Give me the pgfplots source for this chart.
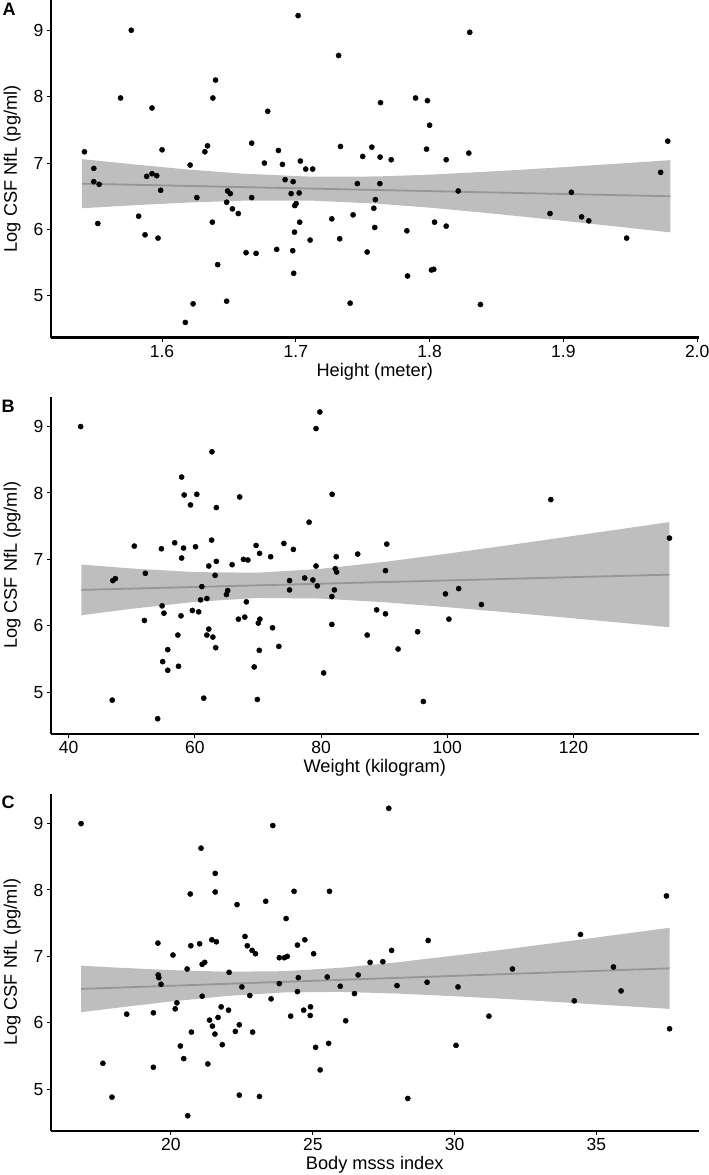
\documentclass[border=0pt]{standalone}
\usepackage{fontspec}
\setmainfont{Liberation Sans}
\usepackage{pgfplots}
\pgfplotsset{compat=1.18}
\definecolor{band}{RGB}{190,190,190}
\definecolor{fitc}{RGB}{150,150,150}
\pgfplotsset{
  panel/.style={
    scale only axis, width=647.5pt, height=337.5pt, anchor=south west,
    axis lines=left, axis line style={-, line width=2.6pt, black},
    tick style={black, line width=1pt}, tick align=outside, major tick length=4pt,
    ymin=4.37, ymax=9.453, ytick={5,6,7,8,9},
    tick label style={font=\fontsize{17.5}{20}\selectfont, text=black},
    /pgf/number format/assume math mode=true,
    ylabel={Log CSF NfL (pg/ml)},
    every axis y label/.style={at={(axis description cs:-0.060,0.5)}, rotate=90, anchor=center, font=\fontsize{18.2}{20}\selectfont},
    every axis x label/.style={at={(axis description cs:0.5,-0.10)}, anchor=center, font=\fontsize{18.2}{20}\selectfont},
  },
  pts/.style={only marks, mark=*, mark size=2.6pt, black},
  bandst/.style={fill=band, draw=none},
  fitst/.style={fitc, line width=1.8pt, no marks},
}
\begin{document}
\begin{tikzpicture}
\path[use as bounding box] (0,0) rectangle (709pt,-1175pt);
% ---------------- Panel A ----------------
\begin{axis}[panel, at={(51pt,-337.7pt)},
  xmin=1.517, xmax=2.001, xtick={1.6,1.7,1.8,1.9,2.0},
  xticklabel style={/pgf/number format/fixed, /pgf/number format/fixed zerofill, /pgf/number format/precision=1},
  xlabel={Height (meter)}]
\addplot[bandst] coordinates {(1.54,7.06) (1.58,6.978) (1.62,6.902) (1.66,6.841) (1.71,6.796) (1.76,6.798) (1.80,6.825) (1.85,6.878) (1.90,6.938) (1.94,6.990) (1.98,7.044)
 (1.98,5.956) (1.94,6.044) (1.90,6.130) (1.85,6.234) (1.80,6.329) (1.76,6.390) (1.71,6.436) (1.66,6.433) (1.62,6.406) (1.58,6.366) (1.54,6.32)};
\addplot[fitst] coordinates {(1.54,6.69) (1.98,6.50)};
\addplot[pts] table {
x y
1.542 7.17
1.549 6.92
1.549 6.72
1.553 6.68
1.569 7.98
1.577 9.00
1.5925 7.83
1.600 7.20
1.5885 6.80
1.5925 6.84
1.596 6.81
1.599 6.59
1.621 6.97
1.632 7.17
1.634 7.26
1.638 7.98
1.640 8.25
1.626 6.48
1.649 6.58
1.651 6.54
1.667 7.30
1.667 6.48
1.679 7.78
1.6765 7.00
1.687 7.19
1.690 6.98
1.692 6.75
1.698 6.72
1.6965 6.54
1.7025 6.55
1.7017 9.22
1.7034 7.03
1.7074 6.91
1.7126 6.91
1.732 8.62
1.7334 7.25
1.746 6.69
1.830 8.97
1.7633 7.91
1.7895 7.98
1.7984 7.94
1.800 7.57
1.750 7.10
1.7568 7.24
1.763 7.09
1.7713 7.05
1.7977 7.21
1.8124 7.05
1.8293 7.15
1.978 7.33
1.9727 6.86
1.7628 6.69
1.8214 6.58
1.906 6.56
1.7595 6.45
1.552 6.09
1.5825 6.20
1.5873 5.92
1.597 5.87
1.6174 4.60
1.6232 4.88
1.6376 6.11
1.6416 5.47
1.6483 4.92
1.6483 6.41
1.6526 6.31
1.657 6.24
1.6628 5.65
1.6703 5.64
1.6857 5.70
1.6977 5.68
1.6984 5.34
1.699 5.96
1.6992 6.36
1.7002 6.39
1.7029 6.11
1.7107 5.84
1.7269 6.16
1.7328 5.86
1.7406 4.89
1.7428 6.22
1.7583 6.32
1.759 6.03
1.7533 5.66
1.783 5.98
1.7835 5.30
1.8037 6.11
1.8014 5.39
1.8031 5.40
1.8124 6.05
1.838 4.87
1.890 6.24
1.9136 6.19
1.919 6.13
1.9473 5.87
};
\end{axis}
% ---------------- Panel B ----------------
\begin{axis}[panel, at={(51pt,-734pt)},
  xmin=37.2, xmax=139.8, xtick={40,60,80,100,120},
  xlabel={Weight (kilogram)}]
\addplot[bandst] coordinates {(42,6.922) (50,6.863) (60,6.808) (70,6.799) (80,6.858) (90,6.962) (100,7.086) (110,7.218) (120,7.354) (135.2,7.562)
 (135.2,5.978) (120,6.112) (110,6.198) (100,6.280) (90,6.355) (80,6.410) (70,6.419) (60,6.360) (50,6.256) (42,6.158)};
\addplot[fitst] coordinates {(42,6.54) (135.2,6.77)};
\addplot[pts] table {
x y
41.9 9.00
62.7 8.62
57.9 8.24
58.3 7.97
60.3 7.98
59.3 7.82
63.4 7.78
67.1 7.94
79.2 8.97
79.8 9.22
81.75 7.98
78.1 7.56
50.4 7.20
54.7 7.16
56.8 7.25
58.2 7.17
57.9 7.02
60.1 7.19
62.65 7.29
62.2 6.90
63.4 6.97
65.9 6.92
67.7 7.00
68.4 6.99
69.7 7.21
70.25 7.09
72.0 7.04
74.1 7.24
75.6 7.15
79.2 6.90
82.4 7.04
82.25 6.86
82.46 6.81
85.8 7.08
63.2 6.76
52.15 6.79
47.0 6.68
47.4 6.71
61.1 6.59
60.9 6.39
61.9 6.41
65.0 6.47
65.2 6.53
68.15 6.36
54.8 6.30
55.1 6.19
52.0 6.08
57.8 6.15
59.6 6.23
60.6 6.21
57.3 5.86
55.7 5.64
54.9 5.46
55.7 5.33
57.4 5.39
54.1 4.60
46.9 4.88
61.4 4.91
61.9 5.86
62.2 5.95
62.85 5.83
63.3 5.67
66.9 6.10
67.9 6.13
70.05 6.04
70.3 6.10
72.3 5.97
70.2 5.63
69.4 5.38
69.9 4.89
73.3 5.69
75.0 6.68
75.0 6.54
77.4 6.72
78.7 6.69
79.4 6.60
82.1 6.54
81.7 6.44
81.7 6.02
80.4 5.29
116.4 7.90
135.2 7.32
90.4 7.23
90.2 6.83
99.7 6.48
101.8 6.56
105.4 6.32
88.8 6.24
90.2 6.18
100.25 6.10
87.3 5.86
95.3 5.91
92.2 5.65
96.2 4.86
};
\end{axis}
% ---------------- Panel C ----------------
\begin{axis}[panel, at={(51pt,-1131pt)},
  xmin=15.77, xmax=38.6, xtick={20,25,30,35},
  xlabel={Body msss index}]
\addplot[bandst] coordinates {(16.83,6.86) (18,6.833) (20,6.793) (22,6.769) (24,6.777) (26,6.829) (28,6.912) (30,7.012) (32,7.118) (34,7.229) (36,7.341) (37.58,7.431)
 (37.58,6.209) (36,6.251) (34,6.303) (32,6.354) (30,6.400) (28,6.440) (26,6.465) (24,6.457) (22,6.405) (20,6.321) (18,6.221) (16.83,6.16)};
\addplot[fitst] coordinates {(16.83,6.51) (37.58,6.82)};
\addplot[pts] table {
x y
16.83 9.00
21.06 8.63
21.56 8.25
20.68 7.94
21.56 7.97
22.33 7.78
23.34 7.83
23.59 8.97
24.34 7.98
24.06 7.57
25.59 7.98
19.54 7.20
20.07 7.02
20.70 7.16
21.01 7.19
21.44 7.25
21.60 7.22
22.61 7.30
22.69 7.16
22.86 7.09
22.98 7.04
21.10 6.88
21.19 6.91
20.57 6.81
23.82 6.98
24.00 6.98
24.10 7.00
24.46 7.17
24.72 7.25
25.03 7.04
27.68 9.23
37.47 7.91
29.07 7.24
27.78 7.09
27.02 6.91
27.47 6.92
34.44 7.33
32.04 6.81
35.60 6.84
19.55 6.72
19.57 6.68
19.65 6.58
22.05 6.76
22.50 6.54
22.78 6.41
21.10 6.40
20.21 6.30
20.15 6.21
18.44 6.13
19.38 6.15
21.36 6.04
21.46 5.95
21.66 6.08
21.77 6.24
22.03 6.19
21.55 5.83
20.72 5.86
21.81 5.67
22.27 5.87
22.41 5.97
22.88 5.86
20.33 5.65
20.45 5.46
21.30 5.38
17.60 5.39
19.38 5.33
17.92 4.88
20.59 4.60
22.41 4.91
23.12 4.89
23.53 6.36
23.82 6.59
24.22 6.10
24.49 6.68
24.46 6.47
24.68 6.19
24.92 6.24
24.91 6.11
25.10 5.63
25.56 5.69
25.26 5.29
25.51 6.69
25.97 6.55
26.16 6.03
26.47 6.44
26.60 6.72
27.97 6.56
29.03 6.61
30.12 6.54
31.21 6.10
30.05 5.66
28.35 4.86
34.22 6.33
35.87 6.48
37.58 5.91
};
\end{axis}
\node[font=\bfseries\fontsize{18}{20}\selectfont] at (9pt,-9pt) {A};
\node[font=\bfseries\fontsize{18}{20}\selectfont] at (8pt,-406pt) {B};
\node[font=\bfseries\fontsize{18}{20}\selectfont] at (8pt,-802pt) {C};
\end{tikzpicture}
\end{document}
